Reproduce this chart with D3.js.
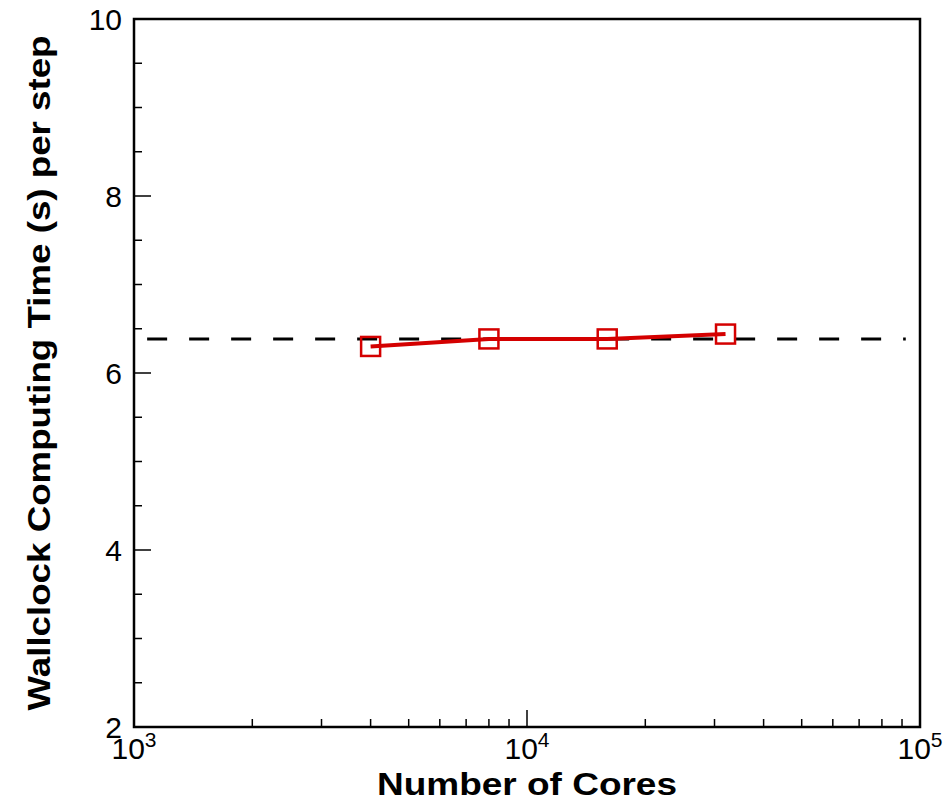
<!DOCTYPE html>
<html>
<head>
<meta charset="utf-8">
<script src="https://cdn.jsdelivr.net/npm/d3@7"></script>
<style>
  body { margin: 0; background: #fff; }
  svg { display: block; font-family: "Liberation Sans", Arial, Helvetica, sans-serif; }
</style>
</head>
<body>
<svg id="chart" width="944" height="803"></svg>
<script>
// Data
const cores = [4000, 8000, 16000, 32000];
const wallTime = [6.30, 6.385, 6.385, 6.44];
const idealTime = 6.385;          // dashed reference level
const idealRange = [1080, 92000]; // extent of dashed line
const yMajor = [2, 4, 6, 8, 10];
const xMajor = [1000, 10000, 100000];

const svg = d3.select("#chart");
const margin = { left: 134, right: 24, top: 19, bottom: 76 };
const W = 944, H = 803;

const x = d3.scaleLog().domain([1000, 100000]).range([margin.left, W - margin.right]);
const y = d3.scaleLinear().domain([2, 10]).range([H - margin.bottom, margin.top]);

const red = "#d40000";

// minor ticks
const yMinor = d3.range(2, 10.01, 0.5).filter(v => !yMajor.includes(v));
const xMinor = [];
[1000, 10000].forEach(d => { for (let k = 2; k <= 9; k++) xMinor.push(d * k); });

const axisG = svg.append("g");

// y ticks (inward)
axisG.selectAll(".ytm").data(yMinor).enter().append("line")
  .attr("x1", x.range()[0]).attr("x2", x.range()[0] + 8)
  .attr("y1", d => y(d)).attr("y2", d => y(d))
  .attr("stroke", "#000").attr("stroke-width", 1.5);
axisG.selectAll(".ytM").data(yMajor).enter().append("line")
  .attr("x1", x.range()[0]).attr("x2", x.range()[0] + 17)
  .attr("y1", d => y(d)).attr("y2", d => y(d))
  .attr("stroke", "#000").attr("stroke-width", 1.5);

// x ticks (inward)
axisG.selectAll(".xtm").data(xMinor).enter().append("line")
  .attr("x1", d => x(d)).attr("x2", d => x(d))
  .attr("y1", y.range()[0]).attr("y2", y.range()[0] - 8)
  .attr("stroke", "#000").attr("stroke-width", 1.5);
axisG.selectAll(".xtM").data(xMajor).enter().append("line")
  .attr("x1", d => x(d)).attr("x2", d => x(d))
  .attr("y1", y.range()[0]).attr("y2", y.range()[0] - 17)
  .attr("stroke", "#000").attr("stroke-width", 1.5);

// frame
axisG.append("rect")
  .attr("x", x.range()[0]).attr("y", y.range()[1])
  .attr("width", x.range()[1] - x.range()[0])
  .attr("height", y.range()[0] - y.range()[1])
  .attr("fill", "none").attr("stroke", "#000").attr("stroke-width", 2.5);

// y tick labels
axisG.selectAll(".yl").data(yMajor).enter().append("text")
  .attr("x", x.range()[0] - 12).attr("y", d => y(d))
  .attr("text-anchor", "end").attr("dominant-baseline", "central")
  .attr("font-size", 30).text(d => d);

// x tick labels: 10 with superscript
const xl = axisG.selectAll(".xl").data(xMajor).enter().append("text")
  .attr("x", d => x(d)).attr("y", 759)
  .attr("text-anchor", "middle").attr("font-size", 30);
xl.append("tspan").text("10");
xl.append("tspan").attr("font-size", 21).attr("dy", -12)
  .text(d => Math.round(Math.log10(d)));

// axis titles (reference font is wider, so stretch to its measured length)
svg.append("text")
  .attr("x", (x.range()[0] + x.range()[1]) / 2).attr("y", 795)
  .attr("text-anchor", "middle").attr("font-size", 31).attr("font-weight", "bold")
  .attr("textLength", 300).attr("lengthAdjust", "spacingAndGlyphs")
  .text("Number of Cores");
svg.append("text")
  .attr("transform", `translate(50,${(y.range()[0] + y.range()[1]) / 2}) rotate(-90)`)
  .attr("text-anchor", "middle").attr("font-size", 31).attr("font-weight", "bold")
  .attr("textLength", 675).attr("lengthAdjust", "spacingAndGlyphs")
  .text("Wallclock Computing Time (s) per step");

// dashed reference line
svg.append("line")
  .attr("x1", x(idealRange[0])).attr("x2", x(idealRange[1]))
  .attr("y1", y(idealTime)).attr("y2", y(idealTime))
  .attr("stroke", "#000").attr("stroke-width", 3)
  .attr("stroke-dasharray", "20,22");

// series
const pts = cores.map((c, i) => ({ c, t: wallTime[i] }));
svg.append("path").datum(pts)
  .attr("d", d3.line().x(d => x(d.c)).y(d => y(d.t)))
  .attr("fill", "none").attr("stroke", red).attr("stroke-width", 4);

const sq = 19;
svg.selectAll(".pt").data(pts).enter().append("rect")
  .attr("x", d => x(d.c) - sq / 2).attr("y", d => y(d.t) - sq / 2)
  .attr("width", sq).attr("height", sq)
  .attr("fill", "none").attr("stroke", red).attr("stroke-width", 2.5);
</script>
</body>
</html>
